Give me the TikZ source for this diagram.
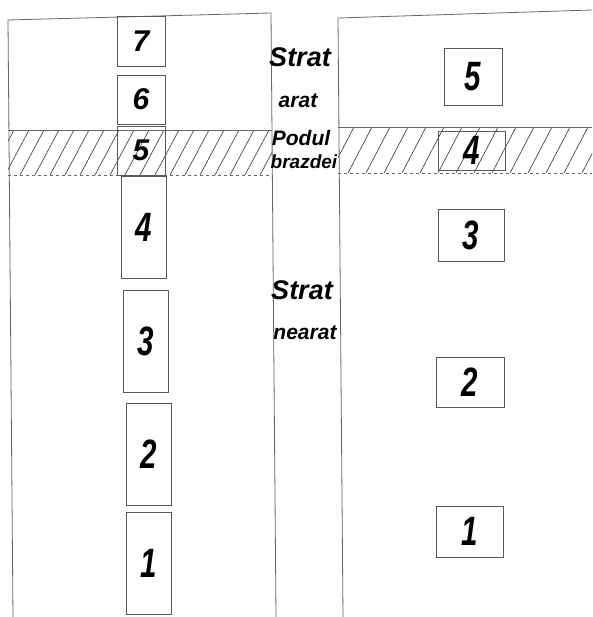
\documentclass[tikz,border=0pt]{standalone}
\usepackage{fontspec}
\setmainfont{Liberation Sans}
\usepackage{graphicx}

\newcommand{\cifra}[1]{\scalebox{0.72}[1]{#1}}

\begin{document}
\begin{tikzpicture}[x=1pt, y=-1pt,
  panel/.style={draw=black!60, line width=0.8pt},
  probe/.style={draw=black!65, line width=0.8pt, inner sep=0pt,
                font=\fontsize{30}{30}\selectfont\bfseries\itshape},
  tall/.style={probe, font=\fontsize{41}{41}\selectfont\bfseries\itshape},
  hatch/.style={black!80, line width=0.6pt},
  lbl/.style={inner sep=0pt, font=\fontsize{21}{21}\selectfont\bfseries\itshape},
  big/.style={lbl, font=\fontsize{27}{27}\selectfont\bfseries\itshape},
]
\useasboundingbox[fill=white] (0,0) rectangle (592,617);

% --- Hatched band (podul brazdei) ---
\begin{scope}
  \clip (8,130) rectangle (272,175);
  \foreach \x in {-10,5,...,290} \draw[hatch] (\x,175) -- (\x+24,130);
\end{scope}
\begin{scope}
  \clip (338,127) rectangle (592,173);
  \foreach \x in {330,348,...,610} \draw[hatch] (\x,173) -- (\x+24,127);
\end{scope}
\draw[panel] (8,130) -- (272,130);
\draw[panel, dashed] (8,175) -- (272,175);
\draw[panel] (338,127) -- (592,127);
\draw[panel, dashed] (338,173) -- (592,173);

% --- Panels ---
\draw[panel] (13,617) -- (8,20) -- (271,13) -- (276,617);
\draw[panel] (343,617) -- (338,18) -- (592,10);

% --- Left column of samples ---
\node[probe, minimum width=48, minimum height=50] (l7) at (141,41) {7};
\node[probe, minimum width=48, minimum height=49] (l6) at (141,99.5) {6};
\node[probe, minimum width=48, minimum height=49] (l5) at (141,150.5) {5};
\node[tall, minimum width=45, minimum height=102] (l4) at (143.5,227) {\cifra{4}};
\node[tall, minimum width=45, minimum height=102] (l3) at (145.5,341) {\cifra{3}};
\node[tall, minimum width=45, minimum height=102] (l2) at (148.5,454) {\cifra{2}};
\node[tall, minimum width=45, minimum height=102] (l1) at (148.5,563) {\cifra{1}};

% --- Right column of samples ---
\node[tall, minimum width=58, minimum height=57] (r5) at (473,76.5) {\cifra{5}};
\node[tall, minimum width=67, minimum height=39] (r4) at (471.5,150.5) {\cifra{4}};
\node[tall, minimum width=66, minimum height=52] (r3) at (471,235) {\cifra{3}};
\node[tall, minimum width=68, minimum height=50] (r2) at (470,382) {\cifra{2}};
\node[tall, minimum width=67, minimum height=51] (r1) at (469.5,531.5) {\cifra{1}};

% --- Labels ---
\node[big] (stratA) at (300,57) {Strat};
\node[lbl] (arat) at (298,101) {arat};
\node[lbl] (podul) at (301,138) {Podul};
\node[lbl, font=\fontsize{19}{19}\selectfont\bfseries\itshape] (brazdei) at (304,162) {brazdei};
\node[big] (stratB) at (302,290) {Strat};
\node[lbl] (nearat) at (305,333) {nearat};
\end{tikzpicture}
\end{document}
